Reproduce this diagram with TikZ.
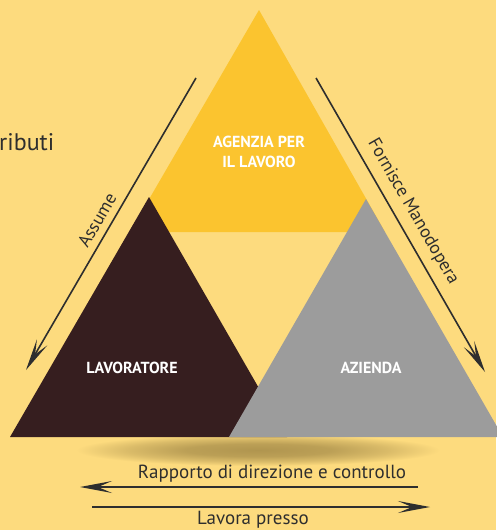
\documentclass[tikz,border=0pt]{standalone}
\usepackage{fontspec}
\setmainfont{PT Sans}[BoldFont={PT Sans Bold}]
\usetikzlibrary{arrows.meta}
\definecolor{bgc}{HTML}{FDDB7E}
\definecolor{topc}{HTML}{FBC42F}
\definecolor{darkc}{HTML}{361E1F}
\definecolor{greyc}{HTML}{9C9C9C}
\definecolor{arrc}{HTML}{2E2E2E}
\definecolor{shc}{HTML}{B0954F}
\pgfdeclareradialshading{shadowsh}{\pgfpoint{0bp}{0bp}}{color(0bp)=(shc); color(10bp)=(shc!85!bgc); color(18bp)=(shc!45!bgc); color(25bp)=(bgc); color(50bp)=(bgc)}
\tikzset{
  arr/.style={draw=arrc, line width=1.6pt, -{Stealth[length=32pt,width=12pt,inset=14pt]}},
  lbl/.style={text=white, font=\bfseries\fontsize{16}{20}\selectfont, align=center, inner sep=0pt},
  txt/.style={text=arrc, font=\fontsize{19}{22}\selectfont, inner sep=0pt}
}
\begin{document}
\begin{tikzpicture}[x=1pt,y=-1pt]
\fill[bgc] (0,0) rectangle (496,530);
\useasboundingbox (0,0) rectangle (496,530);
% shadow
\shade[shading=shadowsh] (258,450) ellipse [x radius=182, y radius=16];
% triangles
\fill[topc] (259,10) -- (385,232) -- (130,232) -- cycle;
\fill[darkc] (149,197) -- (287,437) -- (10,437) -- cycle;
\fill[greyc] (366,199) -- (503,437) -- (229,437) -- cycle;
% labels
\node[lbl] (agenzia) at (259,152) {AGENZIA PER\\IL LAVORO};
\node[lbl] (lavoratore) at (132,368) {LAVORATORE};
\node[lbl] (azienda) at (371,368) {AZIENDA};
% side text
\node[txt, font=\fontsize{24}{28}\selectfont, anchor=base west] (ributi) at (-1,150) {ributi};
% arrows
\coordinate (a1s) at (196,78);
\coordinate (a1e) at (26,370);
\coordinate (a2s) at (316,78);
\coordinate (a2e) at (485,372);
\coordinate (a3s) at (418,487);
\coordinate (a3e) at (80,487);
\coordinate (a4s) at (92,507);
\coordinate (a4e) at (430,507);
\draw[arr] (a1s) -- (a1e);
\draw[arr] (a2s) -- (a2e);
\draw[arr] (a3s) -- (a3e);
\draw[arr] (a4s) -- (a4e);
\node[txt, rotate=60, font=\fontsize{18}{22}\selectfont] (assume) at (97,220) {Assume};
\node[txt, rotate=-60, font=\fontsize{18}{22}\selectfont] (fornisce) at (413,212) {Fornisce Manodopera};
\node[txt] (rapporto) at (272,474) {Rapporto di direzione e controllo};
\node[txt] (lavora) at (253,520) {Lavora presso};
\end{tikzpicture}
\end{document}
